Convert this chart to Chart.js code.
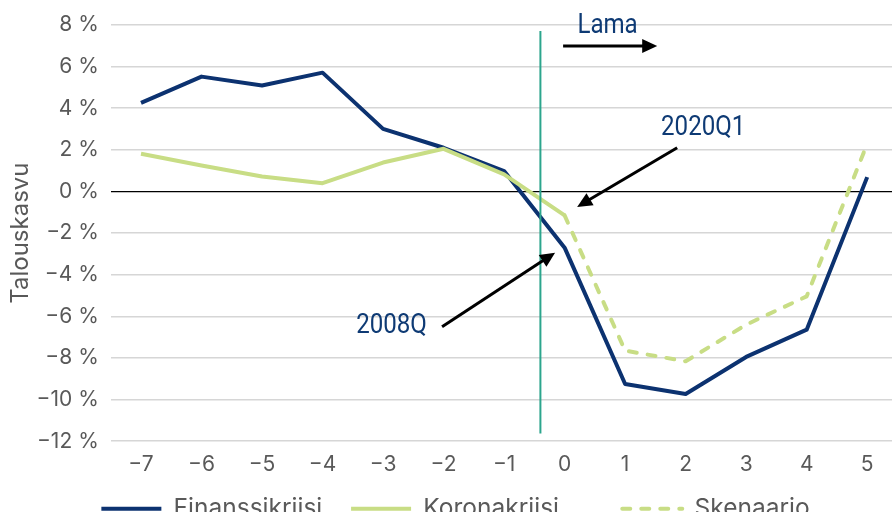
<!DOCTYPE html>
<html>
<head>
<meta charset="utf-8">
<script src="https://cdn.jsdelivr.net/npm/chart.js@4/dist/chart.umd.min.js"></script>
<style>
  html, body { margin: 0; padding: 0; background: #fff; }
  #wrap { width: 892px; height: 512px; overflow: hidden; position: relative; }
  canvas { display: block; }
</style>
</head>
<body>
<div id="wrap"><canvas id="c" width="892" height="531"></canvas></div>
<script>
// ---- data ----
const quarters = [-7, -6, -5, -4, -3, -2, -1, 0, 1, 2, 3, 4, 5];
const finanssikriisi = [4.26, 5.52, 5.09, 5.71, 3.01, 2.1, 0.98, -2.7, -9.25, -9.73, -7.95, -6.64, 0.69];
const koronaQuarters = [-7, -6, -5, -4, -3, -2, -1, 0];
const koronakriisi = [1.81, 1.25, 0.72, 0.4, 1.39, 2.05, 0.82, -1.15];
const skenaarioQuarters = [0, 1, 2, 3, 4, 5];
const skenaario = [-1.15, -7.65, -8.16, -6.4, -5.04, 2.29];
const yTicks = [-12, -10, -8, -6, -4, -2, 0, 2, 4, 6, 8];
const seriesNames = ['Finanssikriisi', 'Koronakriisi', 'Skenaario'];
const yTitle = 'Talouskasvu';
// recession start marker (between quarter -1 and 0)
const lamaMarkerX = -0.4;
const lamaMarkerY = [7.71, -11.63];
// annotation labels and arrows (data units)
const labels = [
  { text: 'Lama',   x: 0.71,  y: 7.95 },
  { text: '2020Q1', x: 2.29,  y: 3.06 },
  { text: '2008Q',  x: -2.86, y: -6.45 }
];
const arrows = [
  { from: [-0.025, 6.99], to: [1.53, 6.99] },
  { from: [1.86, 2.1],    to: [0.207, -0.74] },
  { from: [-2.025, -6.5], to: [-0.157, -2.94] }
];

const navy = '#0c3270';
const green = '#c8dd85';
const teal = '#2ca58d';
const textGray = '#595959';
const FONT = 'Inter, "Noto Sans", sans-serif';
// extra spacing after each legend entry (non-breaking spaces)
const legendGap = [3, 8, 0];

const fmt = v => String(v).replace('-', '\u2212');
const pts = (xs, ys) => xs.map((x, i) => ({ x: x, y: ys[i] }));

const annotationPlugin = {
  id: 'annots',
  afterDatasetsDraw(chart) {
    const { ctx, scales: { x, y } } = chart;
    ctx.save();
    ctx.strokeStyle = '#000';
    ctx.fillStyle = '#000';
    ctx.lineWidth = 3;
    arrows.forEach(a => {
      const x1 = x.getPixelForValue(a.from[0]), y1 = y.getPixelForValue(a.from[1]);
      const x2 = x.getPixelForValue(a.to[0]),   y2 = y.getPixelForValue(a.to[1]);
      const ang = Math.atan2(y2 - y1, x2 - x1);
      const L = 15, W = 7;
      const bx = x2 - Math.cos(ang) * L, by = y2 - Math.sin(ang) * L;
      ctx.beginPath();
      ctx.moveTo(x1, y1);
      ctx.lineTo(bx + Math.cos(ang) * 2, by + Math.sin(ang) * 2);
      ctx.stroke();
      ctx.beginPath();
      ctx.moveTo(x2, y2);
      ctx.lineTo(bx + Math.sin(ang) * W, by - Math.cos(ang) * W);
      ctx.lineTo(bx - Math.sin(ang) * W, by + Math.cos(ang) * W);
      ctx.closePath();
      ctx.fill();
    });
    ctx.fillStyle = '#0e3a74';
    ctx.font = '28px Roboto, "Liberation Sans", sans-serif';
    ctx.textAlign = 'center';
    ctx.textBaseline = 'middle';
    labels.forEach(l => {
      const px = x.getPixelForValue(l.x), py = y.getPixelForValue(l.y);
      ctx.save();
      ctx.translate(px, py);
      ctx.scale(0.86, 1);
      ctx.fillText(l.text, 0, 0);
      ctx.restore();
    });
    ctx.restore();
  }
};

new Chart(document.getElementById('c'), {
  type: 'line',
  data: {
    datasets: [
      { label: seriesNames[0], data: pts(quarters, finanssikriisi), borderColor: navy, backgroundColor: navy,
        borderWidth: 4, pointRadius: 0, tension: 0, borderJoinStyle: 'round', order: 2 },
      { label: seriesNames[1], data: pts(koronaQuarters, koronakriisi), borderColor: green, backgroundColor: green,
        borderWidth: 4, pointRadius: 0, tension: 0, borderJoinStyle: 'round', order: 1 },
      { label: seriesNames[2], data: pts(skenaarioQuarters, skenaario), borderColor: green, backgroundColor: green,
        borderWidth: 4, borderDash: [8, 11], borderCapStyle: 'round', borderJoinStyle: 'round',
        pointRadius: 0, tension: 0, order: 1 },
      { label: '', data: lamaMarkerY.map(v => ({ x: lamaMarkerX, y: v })), borderColor: teal,
        borderWidth: 2, pointRadius: 0, order: 0 }
    ]
  },
  options: {
    responsive: false,
    animation: false,
    devicePixelRatio: 1,
    layout: { padding: { top: 25, left: 19, right: 0, bottom: 0 } },
    scales: {
      x: {
        type: 'linear',
        min: -7.5,
        max: 5.41,
        afterBuildTicks: s => { s.ticks = quarters.map(v => ({ value: v })); },
        grid: { display: false, drawTicks: false },
        border: { display: false },
        ticks: { padding: 11, color: textGray, font: { family: FONT, size: 21 }, callback: v => fmt(v), maxRotation: 0, autoSkip: false }
      },
      y: {
        min: -12,
        max: 8,
        afterBuildTicks: s => { s.ticks = yTicks.map(v => ({ value: v })); },
        afterFit: s => { s.width = 91.75; },
        grid: {
          drawTicks: false,
          color: c => c.tick && c.tick.value === 0 ? '#000000' : '#d6d6d6',
          lineWidth: c => c.tick && c.tick.value === 0 ? 1.2 : 1.5
        },
        border: { display: false },
        ticks: { padding: 12, color: textGray, font: { family: FONT, size: 21 }, callback: v => fmt(v) + ' %' },
        title: { display: true, text: yTitle, color: textGray, font: { family: FONT, size: 24 }, padding: { top: -13, bottom: 0 } }
      }
    },
    plugins: {
      legend: {
        position: 'bottom',
        labels: {
          generateLabels: chart => {
            const items = Chart.defaults.plugins.legend.labels.generateLabels(chart)
              .filter(it => it.text !== '')
              .sort((a, b) => a.datasetIndex - b.datasetIndex);
            items.forEach((it, i) => {
              const ds = chart.data.datasets[it.datasetIndex];
              it.lineDash = ds.borderDash || [];
              it.lineCap = ds.borderCapStyle || 'butt';
              it.lineWidth = ds.borderWidth;
              it.text = it.text + '\u00a0'.repeat(legendGap[i] || 0);
            });
            return items;
          },
          usePointStyle: true,
          pointStyle: 'line',
          pointStyleWidth: 60,
          padding: 8.1,
          color: textGray,
          font: { family: FONT, size: 24.5 }
        }
      },
      tooltip: { enabled: false }
    }
  },
  plugins: [annotationPlugin]
});
</script>
</body>
</html>
